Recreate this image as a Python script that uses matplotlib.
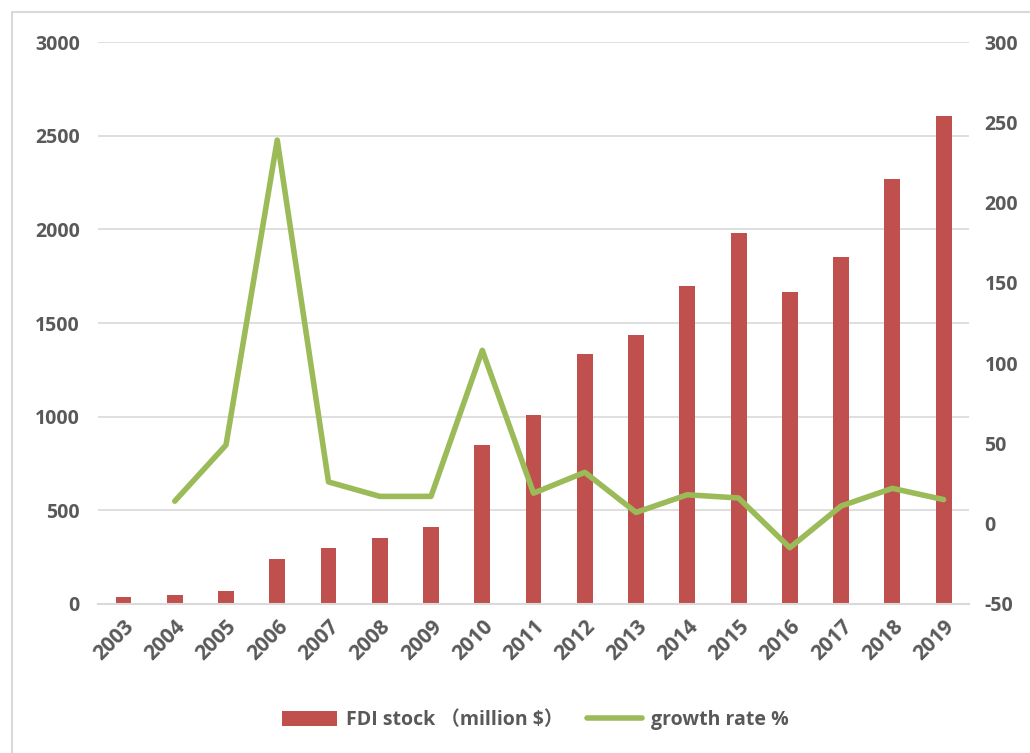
import matplotlib
matplotlib.use("Agg")
import matplotlib.pyplot as plt
from matplotlib.patches import Rectangle
import numpy as np

years = ['2003', '2004', '2005', '2006', '2007', '2008', '2009', '2010', '2011',
         '2012', '2013', '2014', '2015', '2016', '2017', '2018', '2019']
fdi_stock = [37, 48, 69, 240, 299, 352, 411, 850, 1010,
             1335, 1436, 1698, 1980, 1668, 1852, 2270, 2605]
growth_years = years[1:]
growth_rate = [14, 49, 239, 26, 17, 17, 108, 19,
               32, 7, 18, 16, -15, 11, 22, 15]

bar_color = '#C0504D'
line_color = '#9BBB59'
text_color = '#595959'
grid_color = '#D9D9D9'

plt.rcParams['font.family'] = ['Open Sans', 'Noto Sans CJK SC', 'DejaVu Sans']
plt.rcParams['font.weight'] = 'bold'
plt.rcParams['axes.unicode_minus'] = False

fig = plt.figure(figsize=(10.30, 7.53), dpi=100)
ax = fig.add_axes([0.095, 0.198, 0.846, 0.746])
ax2 = ax.twinx()

# light frame round the whole chart
fig.patches.append(Rectangle((12 / 1030, -0.1), 1.2, 1 - 12 / 753 + 0.1,
                             transform=fig.transFigure, fill=False,
                             edgecolor='#D9D9D9', linewidth=1.5))

x = np.arange(len(years))
ax.bar(x, fdi_stock, width=0.31, color=bar_color, zorder=2,
       label='FDI stock （million $）')
ax2.plot(x[1:], growth_rate, color=line_color, linewidth=4,
         solid_joinstyle='round', solid_capstyle='round', label='growth rate %')

ax.set_xlim(-0.5, len(years) - 0.5)
ax.set_ylim(0, 3000)
ax.set_yticks(range(0, 3001, 500))
ax2.set_ylim(-50, 300)
ax2.set_yticks(range(-50, 301, 50))

ax.yaxis.grid(True, color=grid_color, linewidth=1.2, zorder=0)
ax.set_axisbelow(True)

for a in (ax, ax2):
    for s in a.spines.values():
        s.set_visible(False)
    a.tick_params(length=0, colors=text_color, labelsize=14)
ax.spines['bottom'].set_visible(True)
ax.spines['bottom'].set_color(grid_color)
ax.spines['bottom'].set_linewidth(1.5)

ax.tick_params(axis='y', pad=13)
ax2.tick_params(axis='y', pad=11)
ax.set_xticks(x)
ax.set_xticklabels(years, rotation=45, ha='right', rotation_mode='anchor')
ax.tick_params(axis='x', pad=9, labelsize=15)
for lbl in ax.get_yticklabels() + ax2.get_yticklabels() + ax.get_xticklabels():
    lbl.set_fontweight('bold')

h1, l1 = ax.get_legend_handles_labels()
h2, l2 = ax2.get_legend_handles_labels()
leg = fig.legend(h1 + h2, l1 + l2, loc='center', bbox_to_anchor=(0.52, 0.044),
                 ncol=2, frameon=False, fontsize=14, handlelength=2.8,
                 handleheight=0.8, columnspacing=1.2, handletextpad=0.5)
for t in leg.get_texts():
    t.set_color(text_color)
    t.set_fontweight('bold')

fig.savefig('out.png', dpi=100)
